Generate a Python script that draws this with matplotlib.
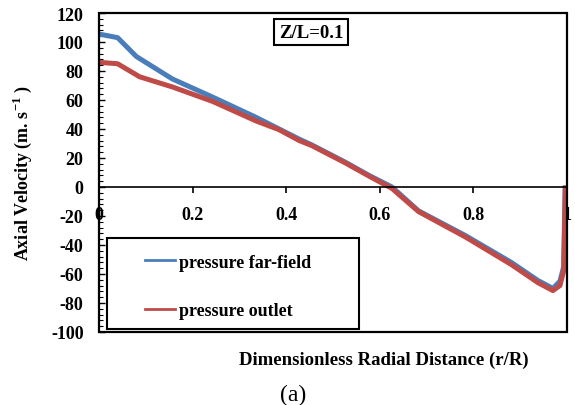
import numpy as np
import matplotlib
matplotlib.use("Agg")
import matplotlib.pyplot as plt
from matplotlib.lines import Line2D
from matplotlib.patches import Rectangle
from matplotlib.ticker import MultipleLocator

plt.rcParams['font.family'] = ['Liberation Serif', 'DejaVu Serif']
plt.rcParams['axes.unicode_minus'] = False
plt.rcParams['mathtext.fontset'] = 'custom'
plt.rcParams['mathtext.bf'] = 'Liberation Serif:bold'
plt.rcParams['mathtext.rm'] = 'Liberation Serif'

# data
r_far = [0.0, 0.04, 0.08, 0.157, 0.243, 0.336, 0.385, 0.428, 0.455, 0.527, 0.577,
         0.626, 0.683, 0.783, 0.881, 0.938, 0.970, 0.985, 0.993, 0.996]
v_far = [105.5, 103, 90, 74.5, 62, 48, 40, 33, 29, 17, 8,
         0, -16.5, -33.5, -52, -64.5, -70, -65, -55, 1]

r_out = [0.0, 0.04, 0.087, 0.157, 0.243, 0.336, 0.385, 0.428, 0.455, 0.527, 0.577,
         0.626, 0.683, 0.783, 0.881, 0.938, 0.970, 0.985, 0.993, 0.997]
v_out = [86, 85, 76, 69, 59, 45.5, 39.5, 32, 28.5, 16.5, 7.5,
         -1, -17, -34.5, -53.5, -66, -71.5, -68, -58, 1]

labels = ['pressure far-field', 'pressure outlet']
blue = '#4a7ebb'
red = '#be4b48'

fig = plt.figure(figsize=(5.75, 4.06), dpi=100)
ax = fig.add_axes([0.172, 0.180, 0.814, 0.7855])

ax.plot(r_far, v_far, color=blue, lw=3.6, solid_capstyle='butt')
ax.plot(r_out, v_out, color=red, lw=3.6, solid_capstyle='butt')

ax.set_xlim(0, 1)
ax.set_ylim(-100, 120)

# x axis crosses at y=0, box frame drawn separately
for s in ['top', 'right', 'left']:
    ax.spines[s].set_visible(False)
ax.spines['bottom'].set_position(('data', 0))
ax.spines['bottom'].set_linewidth(1.2)
ax.add_patch(Rectangle((0, 0), 1, 1, transform=ax.transAxes, fill=False,
                       lw=1.6, ec='black', clip_on=False, zorder=5))

ax.set_xticks([0, 0.2, 0.4, 0.6, 0.8, 1.0])
ax.set_xticklabels(['0', '0.2', '0.4', '0.6', '0.8', '1'])
ax.yaxis.set_major_locator(MultipleLocator(20))
ax.yaxis.set_minor_locator(MultipleLocator(4))
ax.tick_params(axis='x', direction='out', length=4, width=1.2, pad=10,
               labelsize=13)
ax.tick_params(axis='y', which='major', direction='in', length=4, width=1,
               pad=11, labelsize=13)
ax.tick_params(axis='y', which='minor', direction='in', length=3, width=0.8)
for lab in ax.get_xticklabels() + ax.get_yticklabels():
    lab.set_fontweight('bold')

ax.set_ylabel('Axial Velocity (m. s$^{\\mathbf{-1}}$ )', fontsize=13,
              fontweight='bold')
ax.yaxis.set_label_coords(-0.139, 0.5)

fig.text(0.668, 0.113, 'Dimensionless Radial Distance (r/R)', ha='center',
         va='center', fontsize=13.5, fontweight='bold')
fig.text(0.51, 0.027, '(a)', ha='center', va='center', fontsize=17)

ax.text(0.453, 0.94, 'Z/L=0.1', transform=ax.transAxes, ha='center',
        va='center', fontsize=13.5, fontweight='bold',
        bbox=dict(boxstyle='square,pad=0.25', fc='white', ec='black', lw=1.5))

# legend box drawn as a patch, entries placed inside it
ax.add_patch(Rectangle((0.017, 0.0094), 0.538, 0.285, transform=ax.transAxes,
                       fill=True, fc='white', lw=1.5, ec='black', zorder=6))
handles = [Line2D([], [], color=blue, lw=2), Line2D([], [], color=red, lw=2)]
leg = ax.legend(handles, labels, loc='upper left',
                bbox_to_anchor=(0.098, 0.245),
                prop={'weight': 'bold', 'size': 13}, frameon=False,
                handlelength=1.7, labelspacing=1.75, borderpad=0,
                handletextpad=0.2, borderaxespad=0)
leg.set_zorder(7)

fig.savefig('out.png', dpi=100)
